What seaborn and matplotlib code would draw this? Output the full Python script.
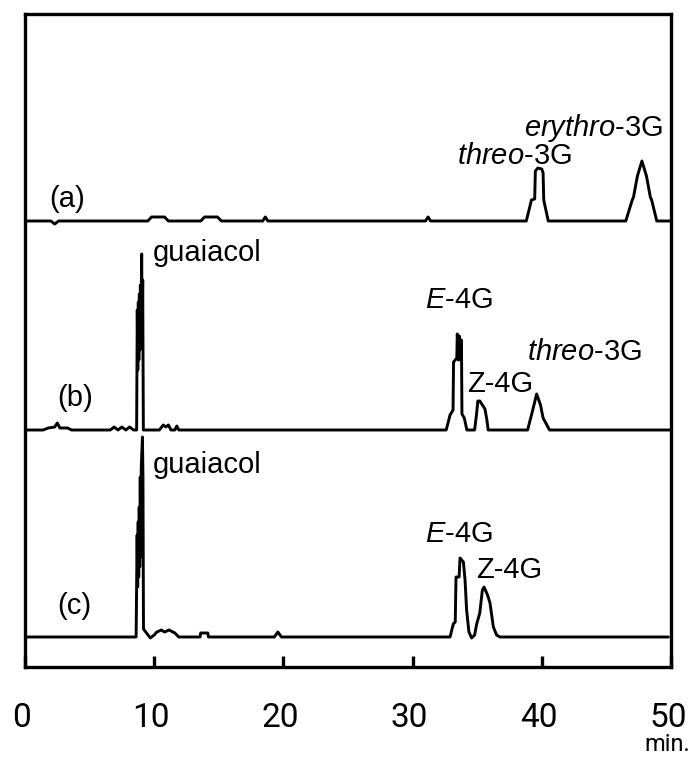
import matplotlib
matplotlib.use("Agg")
import matplotlib.pyplot as plt
from matplotlib.transforms import ScaledTranslation
import numpy as np
import pandas as pd
import seaborn as sns

# ---- chromatogram traces: retention time (min) and detector signal (a.u. above baseline)
a_time = [0.0, 2.0, 2.3, 2.6, 9.5, 9.8, 10.8, 11.1, 13.6, 13.9, 14.9, 15.2,
          18.4, 18.6, 18.8, 31.0, 31.2, 31.4,
          38.8, 39.2, 39.45, 39.5, 39.7, 40.0, 40.1, 40.15, 40.5,
          46.5, 47.0, 47.1, 47.4, 47.75, 48.1, 48.4, 48.5, 48.9, 50.0]
a_signal = [0, 0, -3, 0, 0, 4, 4, 0, 0, 4, 4, 0,
            0, 4, 0, 0, 4, 0,
            0, 21, 22, 50, 53, 52, 48, 21, 0,
            0, 21, 24, 45, 60, 45, 24, 21, 0, 0]

b_time = [0.0, 1.4, 1.8, 2.3, 2.5, 2.7, 3.3, 3.6,
          6.6, 6.9, 7.2, 7.5, 7.8, 8.1, 8.4,
          8.64, 8.69, 8.73, 8.77, 8.81, 8.85, 8.89, 8.93, 8.97, 9.03, 9.07, 9.11, 9.16,
          9.4, 10.4, 10.7, 10.9, 11.1, 11.3, 11.6, 11.75, 11.9,
          32.6, 32.9, 33.13, 33.17, 33.42, 33.46, 33.54, 33.62, 33.7, 33.78, 33.82, 34.0, 34.2,
          34.8, 34.95, 35.05, 35.2, 35.6, 35.75, 35.85,
          38.9, 39.1, 39.3, 39.6, 39.9, 40.1, 40.6,
          50.0]
b_signal = [0, 0, 2, 3, 7, 2, 2, 0,
            0, 3, 0, 3, 0, 3, 0,
            0, 120, 60, 128, 70, 136, 80, 145, 90, 176, 100, 150, 0,
            0, 0, 5, 3, 5, 0, 0, 4, 0,
            0, 15, 20, 68, 72, 96, 70, 94, 70, 90, 16, 12, 0,
            0, 16, 29, 29, 21, 10, 0,
            0, 10, 20, 36, 25, 12, 0,
            0]

c_time = [0.15, 8.6, 8.68, 8.72, 8.76, 8.80, 8.84, 8.88, 8.92, 8.96, 9.0, 9.09, 9.13, 9.17,
          9.7, 10.0, 10.2, 10.55, 10.8, 11.15, 11.6, 11.9,
          13.55, 13.6, 14.15, 14.2, 19.3, 19.57, 19.85,
          32.9, 33.15, 33.3, 33.36, 33.6, 33.67, 33.93, 34.06, 34.18, 34.36, 34.57,
          34.8, 34.96, 35.2, 35.4, 35.53, 35.8, 35.99, 36.25, 36.5, 36.76,
          49.8]
c_signal = [0, 0, 102, 50, 115, 60, 130, 70, 160, 80, 170, 200, 160, 8,
            -1, 2, 5, 7, 5, 7, 4, 0,
            0, 4, 4, 0, 0, 5, 0,
            0, 13, 15, 60, 60, 79, 75, 57, 27, 5, -1,
            2, 13, 24, 47, 50, 42, 34, 10, 2, 0,
            0]

trace_names = ["(a)", "(b)", "(c)"]
x_ticks = [0, 10, 20, 30, 40, 50]
x_unit = "min."

# vertical stacking of the three chromatograms
offsets = {"(a)": 446, "(b)": 237, "(c)": 30}

frames = []
for name, t, s in zip(trace_names, [a_time, b_time, c_time], [a_signal, b_signal, c_signal]):
    frames.append(pd.DataFrame({"trace": name, "time": t,
                                "signal": np.asarray(s, float) + offsets[name]}))
df = pd.concat(frames, ignore_index=True)

sns.set_style("white")
plt.rcParams["font.family"] = ["Liberation Sans", "DejaVu Sans"]
plt.rcParams["mathtext.fontset"] = "custom"
plt.rcParams["mathtext.rm"] = "Liberation Sans"
plt.rcParams["mathtext.it"] = "Liberation Sans:italic"
plt.rcParams["xtick.bottom"] = True
plt.rcParams["xtick.direction"] = "in"
plt.rcParams["text.color"] = "black"
plt.rcParams["xtick.color"] = "black"
plt.rcParams["xtick.labelcolor"] = "black"

W, H = 693, 758
fig = plt.figure(figsize=(W / 100, H / 100), dpi=100)
ax = fig.add_axes([25 / W, 91 / H, 646 / W, 653 / H])

sns.lineplot(data=df, x="time", y="signal", units="trace", estimator=None,
             sort=False, color="black", lw=2.1, ax=ax, legend=False)

ax.set_xlim(0, 50)
ax.set_ylim(0, 653)
ax.set_xlabel("")
ax.set_ylabel("")
ax.set_yticks([])
ax.set_xticks(x_ticks)
tick_family = ["Liberation Sans Narrow", "Roboto", "DejaVu Sans"]
ax.set_xticklabels([str(v) for v in x_ticks], family=tick_family, fontsize=24)
ax.tick_params(axis="x", which="major", direction="in", length=8, width=2.4,
               color="black", labelcolor="black", pad=25, bottom=True, labelbottom=True)
shift = ScaledTranslation(-3 / 100, 0, fig.dpi_scale_trans)
for lab in ax.get_xticklabels():
    lab.set_transform(lab.get_transform() + shift)
for sp in ax.spines.values():
    sp.set_linewidth(2.4)
    sp.set_color("black")

# peak and trace labels
fs = 21
labels = [
    (38.6, 531, r"$\mathit{erythro}$-3G", "baseline"),
    (33.4, 503, r"$\mathit{threo}$-3G", "baseline"),
    (9.9, 406, "guaiacol", "baseline"),
    (30.96, 359, r"$\mathit{E}$-4G", "baseline"),
    (38.85, 307, r"$\mathit{threo}$-3G", "baseline"),
    (34.2, 275, "Z-4G", "baseline"),
    (9.9, 194, "guaiacol", "baseline"),
    (30.96, 125, r"$\mathit{E}$-4G", "baseline"),
    (34.9, 89, "Z-4G", "baseline"),
    (1.86, 468, "(a)", "center"),
    (2.48, 269, "(b)", "center"),
    (2.48, 61, "(c)", "center"),
]
for x, y, s, va in labels:
    ax.text(x, y, s, fontsize=fs, ha="left", va=va, color="black")

fig.text(690 / W, 1 - 756 / H, x_unit, ha="right", va="bottom",
         family=tick_family, fontsize=17, color="black")

fig.savefig("out.png", dpi=100)
